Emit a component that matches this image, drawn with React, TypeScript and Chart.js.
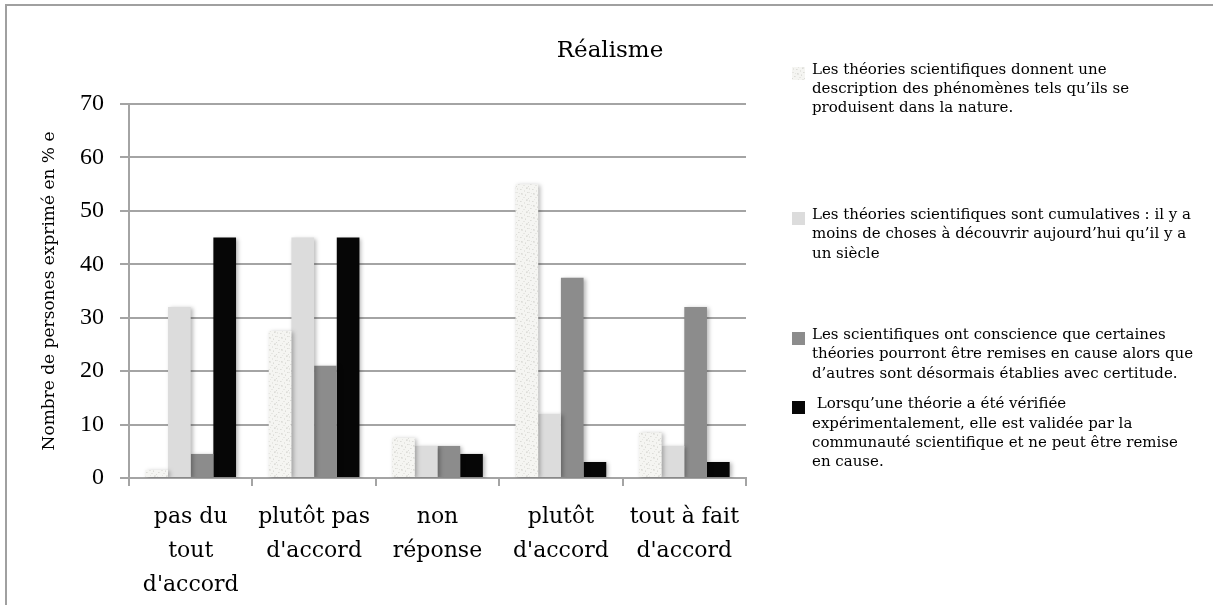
import React, { useEffect, useRef } from "react";
import { Chart, registerables } from "chart.js";

Chart.register(...registerables);

const categories: string[][] = [
  ["pas du", "tout", "d'accord"],
  ["plutôt pas", "d'accord"],
  ["non", "réponse"],
  ["plutôt", "d'accord"],
  ["tout à fait", "d'accord"],
];

const seriesNames: string[] = [
  "Les théories scientifiques donnent une description des phénomènes tels qu’ils se produisent dans la nature.",
  "Les théories scientifiques sont cumulatives : il y a moins de choses à découvrir aujourd’hui qu’il y a un siècle",
  "Les scientifiques ont conscience que certaines théories pourront être remises en cause alors que d’autres sont désormais établies avec certitude.",
  " Lorsqu’une théorie a été vérifiée expérimentalement, elle est validée par la communauté scientifique et ne peut être remise en cause.",
];

const legendLines: string[][] = [
  ["Les théories scientifiques donnent une", "description des phénomènes tels qu’ils se", "produisent dans la nature."],
  ["Les théories scientifiques sont cumulatives : il y a", "moins de choses à découvrir aujourd’hui qu’il y a", "un siècle"],
  ["Les scientifiques ont conscience que certaines", "théories pourront être remises en cause alors que", "d’autres sont désormais établies avec certitude."],
  [" Lorsqu’une théorie a été vérifiée", "expérimentalement, elle est validée par la", "communauté scientifique et ne peut être remise", "en cause."],
];

const descriptionValues: number[] = [1.5, 27.5, 7.5, 55, 8.5];
const cumulativeValues: number[] = [32, 45, 6, 12, 6];
const conscienceValues: number[] = [4.5, 21, 6, 37.5, 32];
const verifieeValues: number[] = [45, 45, 4.5, 3, 3];

const titleText = "Réalisme";
const yAxisTitle = "Nombre de persones exprimé en % e";
const yMin = 0;
const yMax = 70;
const yStep = 10;

const FONT = "'DejaVu Serif', serif";
const TICKFONT = "'Liberation Serif', serif";
const GRID = "#a4a4a4";

function makeSpeckle(): CanvasPattern | string {
  const c = document.createElement("canvas");
  c.width = 12;
  c.height = 12;
  const g = c.getContext("2d");
  if (!g) return "#efefec";
  g.fillStyle = "#f5f5f2";
  g.fillRect(0, 0, 12, 12);
  g.fillStyle = "#e6e6e2";
  const blobs = [[0, 0, 2, 1], [5, 1, 2, 2], [9, 2, 1, 2], [2, 4, 2, 1], [7, 5, 2, 1], [10, 7, 2, 2], [1, 8, 1, 2], [4, 9, 2, 1], [8, 10, 1, 2], [3, 1, 1, 1], [6, 7, 1, 1]];
  blobs.forEach(([x, y, w, h]) => g.fillRect(x, y, w, h));
  g.fillStyle = "#dcdcd8";
  const dots = [[5, 1], [9, 3], [2, 4], [10, 8], [4, 9], [0, 6], [11, 0]];
  dots.forEach(([x, y]) => g.fillRect(x, y, 1, 1));
  const p = g.createPattern(c, "repeat");
  return p || "#efefec";
}

export default function App() {
  const ref = useRef<HTMLCanvasElement | null>(null);

  useEffect(() => {
    document.body.style.margin = "0";
    const canvas = ref.current;
    if (!canvas) return;
    const speckle = makeSpeckle();
    const colors: (string | CanvasPattern)[] = [speckle, "#dcdcdc", "#8c8c8c", "#060606"];

    const frame = {
      id: "frame",
      beforeDraw(chart: any) {
        const ctx = chart.ctx;
        ctx.save();
        ctx.fillStyle = "#ffffff";
        ctx.fillRect(0, 0, chart.width, chart.height);
        ctx.strokeStyle = "#a0a0a0";
        ctx.lineWidth = 2;
        ctx.beginPath();
        ctx.moveTo(6, chart.height);
        ctx.lineTo(6, 5);
        ctx.lineTo(chart.width, 5);
        ctx.stroke();
        ctx.fillStyle = "#000";
        ctx.font = `23px ${FONT}`;
        ctx.textAlign = "center";
        ctx.textBaseline = "alphabetic";
        ctx.fillText(titleText, 610, 57);
        ctx.restore();
      },
    };

    const shadow = {
      id: "barShadow",
      beforeDatasetsDraw(chart: any) {
        const ctx = chart.ctx;
        ctx.save();
        ctx.shadowColor = "rgba(0,0,0,0.28)";
        ctx.shadowBlur = 4;
        ctx.shadowOffsetX = 2;
        ctx.shadowOffsetY = 1;
      },
      afterDatasetsDraw(chart: any) {
        chart.ctx.restore();
      },
    };

    const lineCenters = [
      [70, 89, 108],
      [215, 234, 254],
      [335, 354, 374],
      [404, 424, 443, 462],
    ];

    const legend = {
      id: "sideLegend",
      afterDraw(chart: any) {
        const ctx = chart.ctx;
        ctx.save();
        ctx.font = `15px ${FONT}`;
        ctx.textBaseline = "middle";
        ctx.textAlign = "left";
        legendLines.forEach((lines, i) => {
          const ys = lineCenters[i];
          ctx.fillStyle = colors[i];
          ctx.fillRect(792, ys[0] - 3, 13, 13);
          ctx.fillStyle = "#000";
          lines.forEach((t, j) => ctx.fillText(t, 812, ys[j]));
        });
        ctx.restore();
      },
    };

    const chart = new Chart(canvas, {
      type: "bar",
      data: {
        labels: categories,
        datasets: [descriptionValues, cumulativeValues, conscienceValues, verifieeValues].map((d, i) => ({
          label: seriesNames[i],
          data: d,
          backgroundColor: colors[i] as any,
          borderWidth: 0,
          categoryPercentage: 0.735,
          barPercentage: 1,
        })),
      },
      options: {
        animation: false,
        responsive: false,
        devicePixelRatio: 1,
        layout: { padding: { left: 0, top: 104, right: 467, bottom: 0 } },
        plugins: {
          legend: { display: false },
          title: { display: false },
          tooltip: { enabled: false },
        },
        scales: {
          x: {
            offset: true,
            grid: {
              offset: true,
              drawOnChartArea: false,
              drawTicks: true,
              tickLength: 8,
              color: GRID,
              lineWidth: 2,
            },
            border: { display: true, color: GRID, width: 2 },
            ticks: {
              color: "#000",
              font: { family: FONT, size: 22, lineHeight: 1.55 },
              padding: 14,
              maxRotation: 0,
              autoSkip: false,
            },
            afterFit(scale: any) {
              scale.height = 605 - 478;
            },
          },
          y: {
            min: yMin,
            max: yMax,
            ticks: {
              stepSize: yStep,
              color: "#000",
              font: { family: TICKFONT, size: 24 },
              padding: 16,
            },
            grid: {
              color: GRID,
              lineWidth: 2,
              drawTicks: true,
              tickLength: 9,
            },
            border: { display: true, color: GRID, width: 2 },
            title: {
              display: true,
              text: yAxisTitle,
              color: "#000",
              font: { family: FONT, size: 17 },
              padding: { top: 39, bottom: 0 },
            },
            afterFit(scale: any) {
              scale.width = 129;
            },
          },
        },
      },
      plugins: [frame, shadow, legend],
    });

    return () => chart.destroy();
  }, []);

  return (
    <div style={{ position: "fixed", left: 0, top: 0, width: 1213, height: 605, background: "#fff" }}>
      <canvas ref={ref} width={1213} height={605} style={{ display: "block", width: 1213, height: 605 }} />
    </div>
  );
}
